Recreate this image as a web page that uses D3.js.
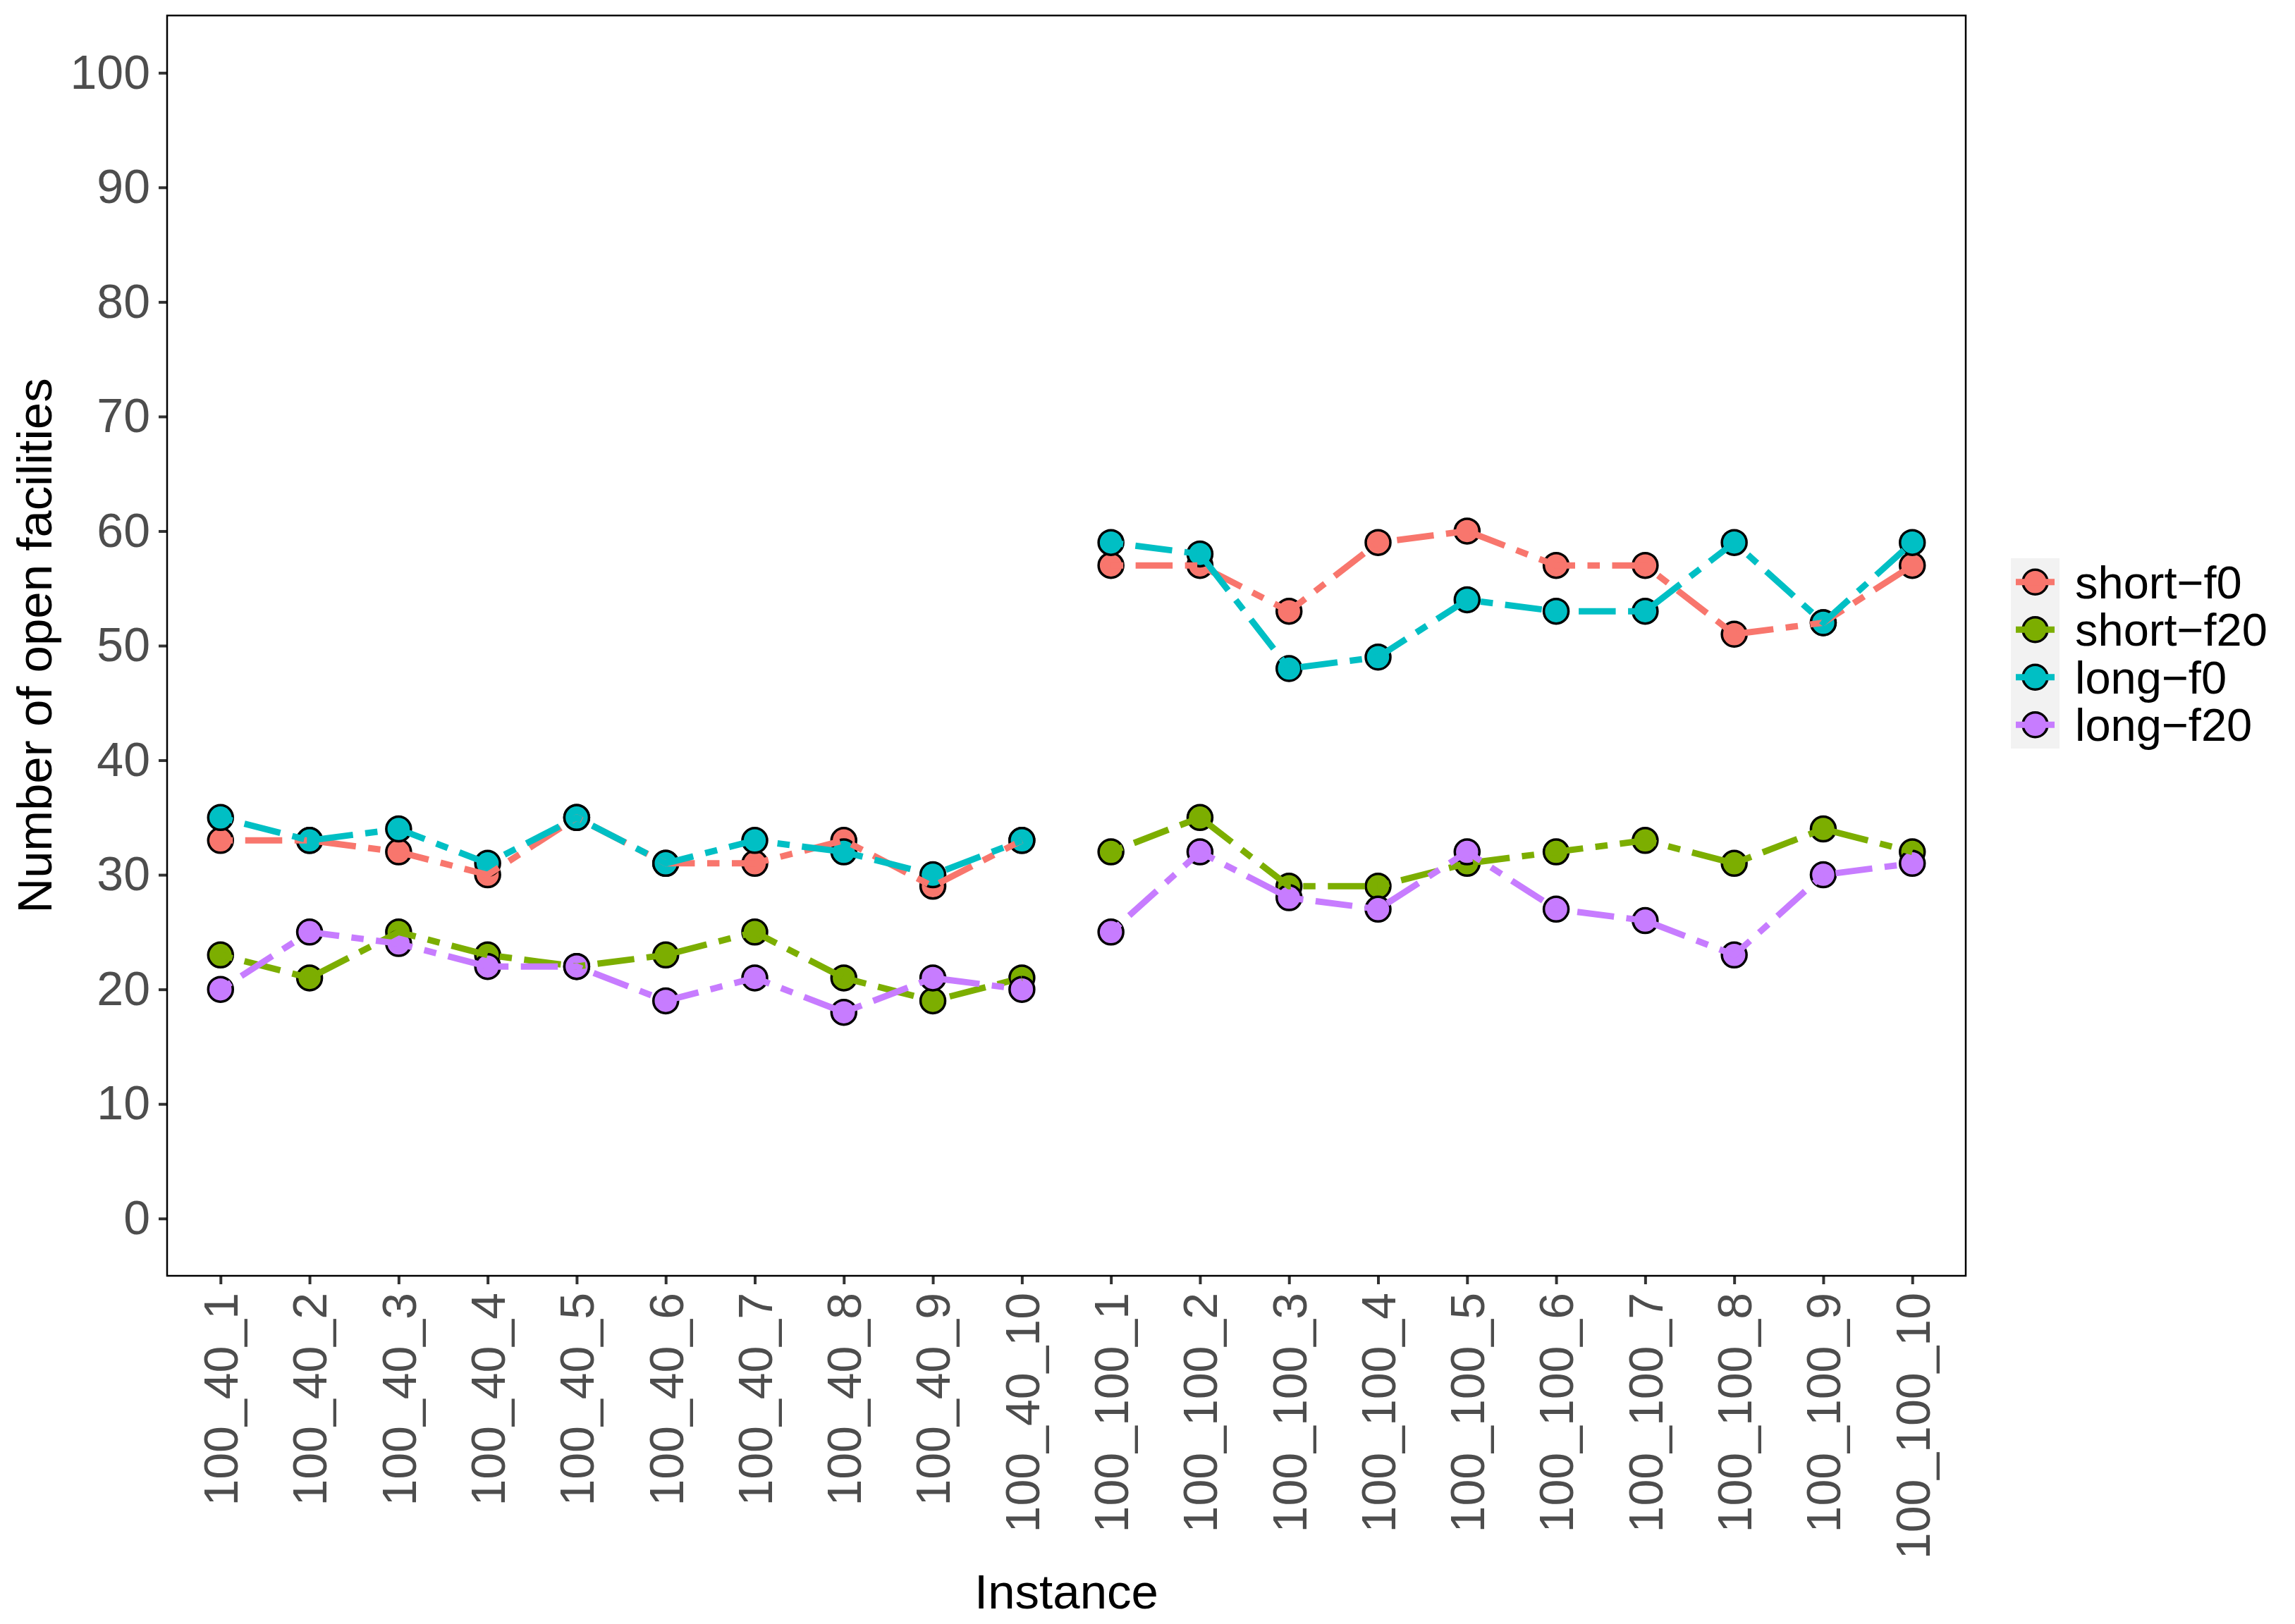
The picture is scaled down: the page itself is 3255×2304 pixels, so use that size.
<!DOCTYPE html>
<html>
<head>
<meta charset="utf-8">
<script src="https://cdn.jsdelivr.net/npm/d3@7"></script>
<style>
  body { margin: 0; background: #fff; }
  svg { display: block; font-family: "Liberation Sans", Arial, sans-serif; }
</style>
</head>
<body>
<svg id="chart"></svg>
<script>
// Data
const categories = [
  '100_40_1', '100_40_2', '100_40_3', '100_40_4', '100_40_5',
  '100_40_6', '100_40_7', '100_40_8', '100_40_9', '100_40_10',
  '100_100_1', '100_100_2', '100_100_3', '100_100_4', '100_100_5',
  '100_100_6', '100_100_7', '100_100_8', '100_100_9', '100_100_10'
];
// instance families: lines are drawn separately for each
const families = ['100_40', '100_100'];
const seriesNames = ['short\u2212f0', 'short\u2212f20', 'long\u2212f0', 'long\u2212f20'];
const seriesColors = ['#F8766D', '#7CAE00', '#00BFC4', '#C77CFF'];

const shortF0  = [33, 33, 32, 30, 35, 31, 31, 33, 29, 33, 57, 57, 53, 59, 60, 57, 57, 51, 52, 57];
const shortF20 = [23, 21, 25, 23, 22, 23, 25, 21, 19, 21, 32, 35, 29, 29, 31, 32, 33, 31, 34, 32];
const longF0   = [35, 33, 34, 31, 35, 31, 33, 32, 30, 33, 59, 58, 48, 49, 54, 53, 53, 59, 52, 59];
const longF20  = [20, 25, 24, 22, 22, 19, 21, 18, 21, 20, 25, 32, 28, 27, 32, 27, 26, 23, 30, 31];

const yTicks = [0, 10, 20, 30, 40, 50, 60, 70, 80, 90, 100];

// Layout
const width = 3255;
const height = 2304;
const panel = { left: 237, right: 2788, top: 22, bottom: 1810 };

const svg = d3.select('#chart')
    .attr('width', width)
    .attr('height', height);

const x = d3.scalePoint()
    .domain(categories)
    .range([panel.left, panel.right])
    .padding(0.6);

const y = d3.scaleLinear()
    .domain([-5, 105])
    .range([panel.bottom, panel.top]);

const familyOf = cat => cat.slice(0, cat.lastIndexOf('_'));

const series = [shortF0, shortF20, longF0, longF20].map((values, i) => ({
    name: seriesNames[i],
    color: seriesColors[i],
    points: values.map((v, j) => ({ cat: categories[j], value: v }))
}));

// Panel background
svg.append('rect')
    .attr('x', panel.left)
    .attr('y', panel.top)
    .attr('width', panel.right - panel.left)
    .attr('height', panel.bottom - panel.top)
    .attr('fill', '#fff');

// Axes
const yAxis = svg.append('g')
    .attr('transform', `translate(${panel.left},0)`)
    .call(d3.axisLeft(y).tickValues(yTicks).tickSize(12).tickPadding(12));

const xAxis = svg.append('g')
    .attr('transform', `translate(0,${panel.bottom})`)
    .call(d3.axisBottom(x).tickSize(12).tickPadding(12));

[yAxis, xAxis].forEach(g => {
    g.select('.domain').remove();
    g.selectAll('.tick line').attr('stroke', '#333333').attr('stroke-width', 4);
    g.selectAll('.tick text')
        .attr('fill', '#4D4D4D')
        .style('font-size', '68px')
        .style('font-family', '"Liberation Sans", Arial, sans-serif');
});

xAxis.selectAll('.tick text')
    .attr('transform', 'rotate(-90)')
    .attr('text-anchor', 'end')
    .attr('x', -24)
    .attr('y', 0)
    .attr('dy', '0.35em');

// Points first, lines on top (geom_point then geom_line)
const plot = svg.append('g');

series.forEach(s => {
    plot.append('g')
        .selectAll('circle')
        .data(s.points)
        .enter()
        .append('circle')
        .attr('cx', d => x(d.cat))
        .attr('cy', d => y(d.value))
        .attr('r', 17.5)
        .attr('fill', s.color)
        .attr('stroke', '#000')
        .attr('stroke-width', 3.5);
});

const line = d3.line()
    .x(d => x(d.cat))
    .y(d => y(d.value));

series.forEach(s => {
    families.forEach(f => {
        plot.append('path')
            .datum(s.points.filter(d => familyOf(d.cat) === f))
            .attr('d', line)
            .attr('fill', 'none')
            .attr('stroke', s.color)
            .attr('stroke-width', 9)
            .attr('stroke-dasharray', '17.5,17.5,52.5,17.5')
            .attr('stroke-linecap', 'butt')
            .attr('stroke-linejoin', 'round');
    });
});

// Panel border
svg.append('rect')
    .attr('x', panel.left)
    .attr('y', panel.top)
    .attr('width', panel.right - panel.left)
    .attr('height', panel.bottom - panel.top)
    .attr('fill', 'none')
    .attr('stroke', '#000')
    .attr('stroke-width', 2.5);

// Axis titles
svg.append('text')
    .attr('x', (panel.left + panel.right) / 2)
    .attr('y', 2282)
    .attr('text-anchor', 'middle')
    .attr('fill', '#000')
    .style('font-size', '69px')
    .text('Instance');

svg.append('text')
    .attr('transform', `translate(73,${(panel.top + panel.bottom) / 2}) rotate(-90)`)
    .attr('text-anchor', 'middle')
    .attr('fill', '#000')
    .style('font-size', '69px')
    .text('Number of open facilities');

// Legend
const legend = svg.append('g').attr('transform', 'translate(2852,792)');
const keySize = 67.5;

legend.append('rect')
    .attr('width', 69)
    .attr('height', keySize * seriesNames.length)
    .attr('fill', '#F2F2F2');

series.forEach((s, i) => {
    const cy = keySize * i + keySize / 2;
    legend.append('circle')
        .attr('cx', 34.5)
        .attr('cy', cy)
        .attr('r', 17.5)
        .attr('fill', s.color)
        .attr('stroke', '#000')
        .attr('stroke-width', 3.5);
    legend.append('line')
        .attr('x1', 7)
        .attr('x2', 62)
        .attr('y1', cy)
        .attr('y2', cy)
        .attr('stroke', s.color)
        .attr('stroke-width', 9);
    legend.append('text')
        .attr('x', 91)
        .attr('y', cy)
        .attr('dy', '0.35em')
        .attr('fill', '#000')
        .style('font-size', '65px')
        .text(s.name);
});
</script>
</body>
</html>
